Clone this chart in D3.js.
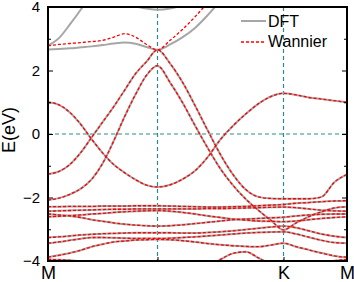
<!DOCTYPE html>
<html>
<head>
<meta charset="utf-8">
<script src="https://cdn.jsdelivr.net/npm/d3@7"></script>
<style>
  html, body { margin: 0; padding: 0; background: #fff; }
  svg { display: block; font-family: "Liberation Sans", Arial, sans-serif; }
</style>
</head>
<body>
<svg id="chart" width="354" height="282"></svg>
<script>
// ---- data (k path: M=0, Γ=1, K=2, M=3) ----
const kPoints = [0,0.1,0.2,0.3,0.4,0.5,0.6,0.7,0.8,0.9,1.0,
                 1.1,1.2,1.3,1.4,1.5,1.6,1.7,1.8,1.9,2.0,
                 2.2,2.4,2.6,2.8,3.0];
const kTickPos = [0, 1, 2, 3];
const kTickLabels = ["M", "", "K", "M"];
const yMajorTicks = [-4, -2, 0, 2, 4];
const yMinorTicks = [-3, -1, 1, 3];
const seriesNames = ["DFT", "Wannier"];

// bands shared by DFT and Wannier
const bandBeta  = [1.00,0.92,0.68,0.30,-0.17,-0.60,-0.96,-1.22,-1.44,-1.61,-1.67,
                   -1.60,-1.42,-1.15,-0.72,-0.17,0.26,0.63,0.95,1.18,1.28,
                   1.23,1.15,1.10,1.05,1.00];
const bandAlpha = [-1.26,-1.18,-0.96,-0.58,-0.10,0.38,0.86,1.38,1.90,2.28,2.65,
                   2.22,1.62,0.88,0.10,-0.65,-1.28,-1.75,-1.98,-2.03,-2.04,
                   -2.04,-2.04,-1.98,-1.52,-1.27];
const bandGamma = [-2.08,-2.02,-1.90,-1.72,-1.42,-0.92,-0.22,0.55,1.25,1.85,2.15,
                   1.62,0.98,0.25,-0.45,-1.10,-1.62,-2.05,-2.40,-2.72,-3.02,
                   -2.80,-2.60,-2.45,-2.33,-2.29];
const bandD1 = [-2.29,-2.29,-2.28,-2.28,-2.28,-2.27,-2.27,-2.27,-2.26,-2.26,-2.26,
                -2.27,-2.28,-2.29,-2.30,-2.30,-2.29,-2.28,-2.26,-2.24,-2.22,
                -2.18,-2.16,-2.13,-2.11,-2.10];
const bandD2 = [-2.43,-2.42,-2.41,-2.40,-2.39,-2.38,-2.37,-2.37,-2.36,-2.36,-2.36,
                -2.36,-2.36,-2.36,-2.35,-2.35,-2.34,-2.33,-2.32,-2.31,-2.30,
                -2.32,-2.36,-2.40,-2.42,-2.43];
const bandD3 = [-2.52,-2.55,-2.58,-2.63,-2.70,-2.75,-2.80,-2.84,-2.87,-2.89,-2.90,
                -2.89,-2.86,-2.82,-2.78,-2.74,-2.70,-2.68,-2.66,-2.64,-2.62,
                -2.58,-2.55,-2.53,-2.52,-2.52];
const bandD4 = [-2.61,-2.59,-2.57,-2.55,-2.52,-2.50,-2.47,-2.45,-2.43,-2.42,-2.41,
                -2.43,-2.47,-2.52,-2.58,-2.63,-2.68,-2.71,-2.74,-2.75,-2.76,
                -2.74,-2.70,-2.66,-2.63,-2.61];
const bandD5 = [-3.26,-3.24,-3.21,-3.18,-3.16,-3.14,-3.13,-3.12,-3.11,-3.11,-3.11,
                -3.11,-3.12,-3.12,-3.10,-3.08,-3.05,-3.01,-2.97,-2.93,-2.90,
                -2.95,-3.05,-3.15,-3.22,-3.26];
const bandD6 = [-3.44,-3.40,-3.35,-3.30,-3.26,-3.26,-3.27,-3.28,-3.29,-3.29,-3.29,
                -3.28,-3.26,-3.24,-3.21,-3.18,-3.15,-3.12,-3.10,-3.09,-3.08,
                -3.15,-3.25,-3.35,-3.42,-3.44];
const bandD7 = [-3.88,-3.82,-3.75,-3.66,-3.55,-3.47,-3.40,-3.37,-3.34,-3.33,-3.32,
                -3.33,-3.36,-3.40,-3.45,-3.49,-3.52,-3.54,-3.55,-3.50,-3.44,
                -3.55,-3.65,-3.75,-3.84,-3.88];
const bandD8 = [-3.95,-3.96,-3.98,-4.02,-4.08,-4.15,-4.22,-4.28,-4.32,-4.35,-4.36,
                -4.35,-4.32,-4.26,-4.18,-3.95,-3.76,-3.71,-3.90,-4.10,-4.20,
                -4.15,-4.10,-4.05,-3.99,-3.95];
// upper bands
const dftUpperSteep = [2.78,3.02,3.45,3.92,4.45,null,null,null,null,null,null,
                       null,null,null,null,null,null,null,null,null,null,
                       null,null,null,null,null];
const dftUpperFlat  = [2.66,2.68,2.70,2.73,2.76,2.80,2.85,2.88,2.84,2.74,2.65,
                       2.82,3.05,3.35,3.75,4.20,null,null,null,null,null,
                       null,null,null,null,null];
const dftUpperTop   = [null,null,null,null,null,null,null,4.10,4.02,3.95,3.91,
                       3.95,4.05,4.15,null,null,null,null,null,null,null,
                       null,null,null,null,null];
const wanUpper      = [2.78,2.82,2.85,2.88,2.91,2.95,3.05,3.16,3.05,2.82,2.65,
                       2.95,3.30,3.70,4.15,null,null,null,null,null,null,
                       null,null,null,null,null];

const sharedBands = [bandBeta, bandAlpha, bandGamma, bandD1, bandD2, bandD3,
                     bandD4, bandD5, bandD6, bandD7, bandD8];
const dftBands = [...sharedBands, dftUpperSteep, dftUpperFlat, dftUpperTop];
const wanBands = [...sharedBands, wanUpper];

// ---- layout ----
const svg = d3.select("#chart");
const pL = 48, pR = 347, pT = 7, pB = 261;
const x = d3.scaleLinear().domain(kTickPos).range([pL, 157.5, 283.5, pR]);
const y = d3.scaleLinear().domain([-4, 4]).range([pB, pT]);

svg.append("defs").append("clipPath").attr("id", "clip")
  .append("rect").attr("x", pL).attr("y", pT)
  .attr("width", pR - pL).attr("height", pB - pT);

const teal = "#2e8b8b";
const guides = svg.append("g");
guides.append("line")
  .attr("x1", pL).attr("x2", pR).attr("y1", y(0)).attr("y2", y(0))
  .attr("stroke", teal).attr("stroke-width", 1.2).attr("stroke-dasharray", "4,3");
[1, 2].forEach(k => {
  guides.append("line")
    .attr("x1", x(k)).attr("x2", x(k)).attr("y1", pT).attr("y2", pB)
    .attr("stroke", teal).attr("stroke-width", 1.2).attr("stroke-dasharray", "4,3");
});

const line = d3.line()
  .defined(d => d[1] !== null)
  .x(d => x(d[0])).y(d => y(d[1]))
  .curve(d3.curveMonotoneX);

const plot = svg.append("g").attr("clip-path", "url(#clip)");
plot.selectAll("path.dft").data(dftBands).join("path")
  .attr("class", "dft")
  .attr("d", b => line(kPoints.map((k, i) => [k, b[i]])))
  .attr("fill", "none").attr("stroke", "#a6a6a6").attr("stroke-width", 2);
plot.selectAll("path.wan").data(wanBands).join("path")
  .attr("class", "wan")
  .attr("d", b => line(kPoints.map((k, i) => [k, b[i]])))
  .attr("fill", "none").attr("stroke", "#ff0000").attr("stroke-width", 1.3)
  .attr("stroke-dasharray", "3,2");

// ---- axes ----
const axL = svg.append("g").attr("transform", `translate(${pL},0)`)
  .call(d3.axisLeft(y).tickValues(yMajorTicks).tickSize(-5).tickPadding(8));
const axLm = svg.append("g").attr("transform", `translate(${pL},0)`)
  .call(d3.axisLeft(y).tickValues(yMinorTicks).tickSize(-3).tickFormat(""));
const axR = svg.append("g").attr("transform", `translate(${pR},0)`)
  .call(d3.axisRight(y).tickValues(yMajorTicks).tickSize(-5).tickFormat(""));
const axRm = svg.append("g").attr("transform", `translate(${pR},0)`)
  .call(d3.axisRight(y).tickValues(yMinorTicks).tickSize(-3).tickFormat(""));
const axB = svg.append("g").attr("transform", `translate(0,${pB})`)
  .call(d3.axisBottom(x).tickValues(kTickPos).tickSize(-4).tickPadding(5)
        .tickFormat((d, i) => kTickLabels[i]));
[axL, axLm, axR, axRm, axB].forEach(g => {
  g.select(".domain").remove();
  g.selectAll(".tick line").attr("stroke", "#000").attr("stroke-width", 1);
});
axL.selectAll("text").attr("font-size", 15).attr("fill", "#000")
  .attr("font-family", "Liberation Sans, Arial, sans-serif");
axB.selectAll("text").attr("font-size", 18).attr("fill", "#000")
  .attr("font-family", "Liberation Sans, Arial, sans-serif");

svg.append("rect").attr("x", pL).attr("y", pT)
  .attr("width", pR - pL).attr("height", pB - pT)
  .attr("fill", "none").attr("stroke", "#000").attr("stroke-width", 2);

svg.append("text")
  .attr("transform", `translate(15,130) rotate(-90)`)
  .attr("text-anchor", "middle")
  .attr("font-size", 18).text("E(eV)");

// ---- legend ----
const leg = svg.append("g");
leg.append("line").attr("x1", 241).attr("x2", 266).attr("y1", 21).attr("y2", 21)
  .attr("stroke", "#a6a6a6").attr("stroke-width", 2);
leg.append("line").attr("x1", 241).attr("x2", 266).attr("y1", 42).attr("y2", 42)
  .attr("stroke", "#ff0000").attr("stroke-width", 1.3).attr("stroke-dasharray", "3,2");
leg.selectAll("text").data(seriesNames).join("text")
  .attr("x", 268).attr("y", (d, i) => 27 + i * 20)
  .attr("font-size", 16).text(d => d);
</script>
</body>
</html>
